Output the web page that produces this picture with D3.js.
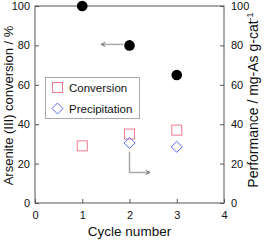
<!DOCTYPE html>
<html><head><meta charset="utf-8">
<script src="https://cdn.jsdelivr.net/npm/d3@7"></script>
<style>body{margin:0;background:#fff}svg{display:block}text{font-family:"Liberation Sans",Arial,sans-serif}</style>
</head><body>
<script>
const cycles = [1, 2, 3];
const conversionPct = [100, 80, 65];
const conversionPerf = [29, 35, 37];
const precipCycles = [2, 3];
const precipPerf = [30.5, 28.5];
const xTicks = [0, 1, 2, 3, 4];
const yTicks = [0, 20, 40, 60, 80, 100];

const W = 264, H = 240;
const m = {l: 35, r: 40, t: 6, b: 37};
const svg = d3.select("body").append("svg").attr("width", W).attr("height", H);
const x = d3.scaleLinear().domain([0, 4]).range([m.l, W - m.r]);
const yL = d3.scaleLinear().domain([0, 100]).range([H - m.b, m.t]);
const yR = d3.scaleLinear().domain([0, 100]).range([H - m.b, m.t]);
const axisColor = "#555";

svg.append("rect").attr("x", m.l).attr("y", m.t).attr("width", W - m.r - m.l).attr("height", H - m.b - m.t)
  .attr("fill", "none").attr("stroke", axisColor).attr("stroke-width", 1);

const styleAxis = g => {
  g.select(".domain").remove();
  g.selectAll(".tick line").attr("stroke", axisColor);
  g.selectAll(".tick text").attr("fill", "#111").style("font-size", "11px").style("font-family", '"Liberation Sans",Arial,sans-serif');
};
svg.append("g").attr("transform", `translate(0,${H - m.b})`)
  .call(d3.axisBottom(x).tickValues(xTicks).tickFormat(d3.format("d")).tickSizeInner(-4).tickSizeOuter(0).tickPadding(8))
  .call(styleAxis);
svg.append("g").attr("transform", `translate(${m.l},0)`)
  .call(d3.axisLeft(yL).tickValues(yTicks).tickSizeInner(-4).tickSizeOuter(0).tickPadding(5))
  .call(styleAxis);
svg.append("g").attr("transform", `translate(${W - m.r},0)`)
  .call(d3.axisRight(yR).tickValues(yTicks).tickSizeInner(-4).tickSizeOuter(0).tickPadding(7))
  .call(styleAxis);

svg.append("text").attr("x", x(2)).attr("y", 236).attr("text-anchor", "middle")
  .style("font-size", "13.5px").attr("fill", "#111").text("Cycle number");
svg.append("text").attr("transform", `translate(12.5,105.5) rotate(-90)`).attr("text-anchor", "middle")
  .style("font-size", "13px").attr("fill", "#111").text("Arsenite (III) conversion / %");
const rt = svg.append("text").attr("transform", `translate(258,100) rotate(-90)`).attr("text-anchor", "middle")
  .style("font-size", "14px").attr("fill", "#111");
rt.append("tspan").text("Performance / mg-As g-cat");
rt.append("tspan").attr("dy", "-5").style("font-size", "9px").text("-1");

const defs = svg.append("defs");
defs.append("marker").attr("id", "ah").attr("viewBox", "0 0 10 10").attr("refX", 9).attr("refY", 5)
  .attr("markerUnits", "userSpaceOnUse").attr("markerWidth", 6).attr("markerHeight", 6).attr("orient", "auto-start-reverse")
  .append("path").attr("d", "M2,1.5L9,5L2,8.5").attr("fill", "none").attr("stroke", "#666").attr("stroke-width", 1.6);
svg.append("path").attr("d", `M${x(1.4)},${yL(80.5)}H${x(1.87)}`)
  .attr("stroke", "#aaa").attr("stroke-width", 1.5).attr("fill", "none").attr("marker-start", "url(#ah)");
svg.append("path").attr("d", `M${x(2)},${yR(26)}V${yR(15.5)}H${x(2.43)}`)
  .attr("stroke", "#aaa").attr("stroke-width", 1.5).attr("fill", "none").attr("marker-end", "url(#ah)");

svg.append("g").selectAll("circle").data(cycles).join("circle")
  .attr("cx", d => x(d)).attr("cy", (d, i) => yL(conversionPct[i])).attr("r", 5.3).attr("fill", "#000");
const sq = 10;
svg.append("g").selectAll("rect").data(cycles).join("rect")
  .attr("x", d => x(d) - sq / 2).attr("y", (d, i) => yR(conversionPerf[i]) - sq / 2)
  .attr("width", sq).attr("height", sq).attr("fill", "none").attr("stroke", "#f07a8e").attr("stroke-width", 1);
const dia = 5.5;
const diaPath = (cx, cy) => `M${cx},${cy - dia}L${cx + dia},${cy}L${cx},${cy + dia}L${cx - dia},${cy}Z`;
svg.append("g").selectAll("path").data(precipCycles).join("path")
  .attr("d", (d, i) => diaPath(x(d), yR(precipPerf[i]))).attr("fill", "none").attr("stroke", "#5a6cf5").attr("stroke-width", 1);

const lg = svg.append("g");
lg.append("rect").attr("x", 45.5).attr("y", 77.5).attr("width", 94).attr("height", 41)
  .attr("fill", "#fff").attr("stroke", "#aaa").attr("stroke-width", 1);
lg.append("rect").attr("x", 52.5).attr("y", 82.5).attr("width", sq).attr("height", sq)
  .attr("fill", "none").attr("stroke", "#f07a8e");
lg.append("path").attr("d", diaPath(57.5, 108.5)).attr("fill", "none").attr("stroke", "#5a6cf5");
lg.append("text").attr("x", 69).attr("y", 92).style("font-size", "11.5px").attr("fill", "#111").text("Conversion");
lg.append("text").attr("x", 69).attr("y", 113).style("font-size", "11.5px").attr("fill", "#111").text("Precipitation");
</script>
</body></html>
